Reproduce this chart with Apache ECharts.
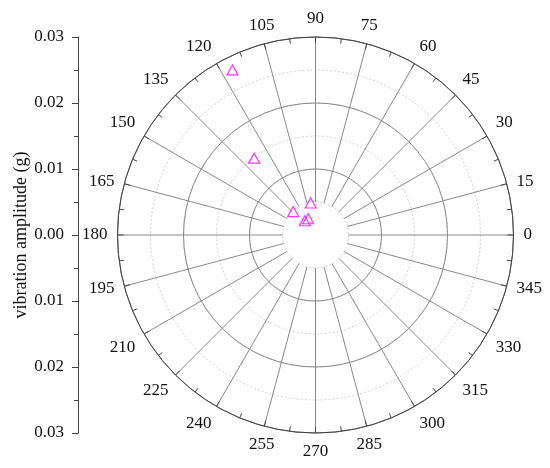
<!DOCTYPE html>
<html>
<head>
<meta charset="utf-8">
<script src="https://cdn.jsdelivr.net/npm/echarts@6/dist/echarts.min.js"></script>
<style>html,body{margin:0;padding:0;background:#fff}#c{width:550px;height:468px}</style>
</head>
<body>
<div id="c"></div>
<script>
// Data: [amplitude (g), angle (deg)]
const amplitudes = [0.0280, 0.0149, 0.0049, 0.0049, 0.0027, 0.0027];
const angles = [116.7, 128.6, 98.6, 133.6, 114.2, 126.9];
const angleTicks = [0, 360, 15];      // min, max, step of angle labels
const amplitudeRange = [0, 0.03, 0.01];
const axisTitle = 'vibration amplitude (g)';

const FONT = "'Liberation Serif','Times New Roman',serif";
const C = [315.5, 235];
const R = 198;
const chart = echarts.init(document.getElementById('c'), null, {renderer: 'canvas'});
const pts = amplitudes.map((a, i) => [a, angles[i]]);

chart.setOption({
  animation: false,
  backgroundColor: '#fff',
  grid: {left: 78, top: 37, width: 20, height: 396},
  xAxis: {type: 'value', show: false, min: 0, max: 1},
  yAxis: {
    type: 'value', min: -amplitudeRange[1], max: amplitudeRange[1], interval: amplitudeRange[2],
    position: 'left',
    name: axisTitle, nameLocation: 'middle', nameGap: 47,
    nameTextStyle: {fontFamily: FONT, fontSize: 18, color: '#111'},
    axisLine: {show: true, lineStyle: {color: '#444', width: 1}},
    axisTick: {show: true, length: 6, lineStyle: {color: '#444'}},
    minorTick: {show: true, splitNumber: 2, length: 4, lineStyle: {color: '#444'}},
    splitLine: {show: false},
    axisLabel: {fontFamily: FONT, fontSize: 17, color: '#111', margin: 14,
      formatter: v => Math.abs(v).toFixed(2)}
  },
  polar: [
    {center: C, radius: [33, R]},
    {center: C, radius: [0, R]}
  ],
  angleAxis: [
    {
      polarIndex: 0, type: 'value', min: angleTicks[0], max: angleTicks[1], interval: angleTicks[2],
      startAngle: 0, clockwise: false,
      axisLine: {show: false}, axisTick: {show: false}, axisLabel: {show: false},
      splitLine: {show: true, lineStyle: {color: '#888', width: 1}}
    },
    {
      polarIndex: 1, type: 'value', min: angleTicks[0], max: angleTicks[1], interval: angleTicks[2],
      startAngle: 0, clockwise: false,
      axisLine: {show: true, lineStyle: {color: '#444', width: 1}},
      axisTick: {show: true, inside: true, length: 6, lineStyle: {color: '#444'}},
      minorTick: {show: true, splitNumber: 2, length: 5, lineStyle: {color: '#444'}},
      splitLine: {show: false},
      axisLabel: {fontFamily: FONT, fontSize: 17, color: '#111', margin: 10,
        formatter: v => (v === 360 ? '' : String(v))}
    }
  ],
  radiusAxis: [
    {
      polarIndex: 0, type: 'value', min: 0.005, max: 0.03, interval: 0.005,
      axisLine: {show: false}, axisTick: {show: false}, axisLabel: {show: false},
      splitLine: {show: true, lineStyle: {color: '#cfcfcf', type: [2, 2], width: 1}}
    },
    {
      polarIndex: 1, type: 'value', min: amplitudeRange[0], max: amplitudeRange[1], interval: amplitudeRange[2],
      axisLine: {show: false}, axisTick: {show: false}, axisLabel: {show: false},
      splitLine: {show: true, lineStyle: {color: '#888', width: 1}}
    }
  ],
  series: [{
    type: 'scatter', coordinateSystem: 'polar', polarIndex: 1,
    symbol: 'triangle', symbolSize: [11, 10],
    itemStyle: {color: 'rgba(255,255,255,0)', borderColor: '#ff00ff', borderWidth: 1.2},
    data: pts
  }]
});
</script>
</body>
</html>
